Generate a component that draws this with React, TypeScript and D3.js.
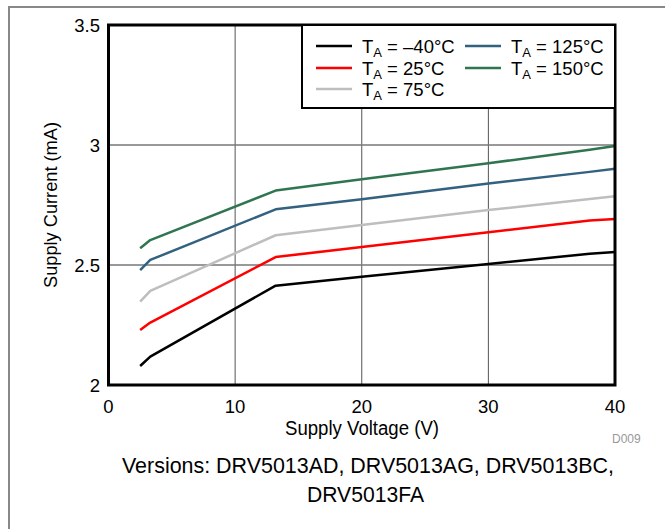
import React from "react";
import * as d3 from "d3";

const voltages = [2.5, 3.3, 13.2, 20, 30, 38, 40];
const seriesNames = ["–40°C", "25°C", "75°C", "125°C", "150°C"];
const seriesColors = ["#000000", "#ff0000", "#bebebe", "#336180", "#2f7550"];
const currM40 = [2.079, 2.118, 2.414, 2.451, 2.504, 2.547, 2.554];
const curr25 = [2.229, 2.26, 2.533, 2.575, 2.636, 2.685, 2.692];
const curr75 = [2.347, 2.392, 2.624, 2.667, 2.729, 2.775, 2.786];
const curr125 = [2.479, 2.521, 2.732, 2.774, 2.84, 2.888, 2.901];
const curr150 = [2.57, 2.604, 2.81, 2.857, 2.924, 2.98, 2.996];
const seriesValues = [currM40, curr25, curr75, curr125, curr150];
const xTicks = [0, 10, 20, 30, 40];
const yTicks = [2, 2.5, 3, 3.5];
const xGrid = [10, 20, 30];
const yGrid = [2.5, 3];

const FONT = "'Liberation Sans', Arial, sans-serif";

export default function App() {
  const W = 665, H = 529;
  const x = d3.scaleLinear().domain([0, 40]).range([108.5, 615]);
  const y = d3.scaleLinear().domain([2, 3.5]).range([385, 25]);
  const line = d3.line<[number, number]>().x(d => x(d[0])).y(d => y(d[1]));
  const legendPos = [
    { lx: 316, ty: 46 },
    { lx: 316, ty: 68 },
    { lx: 316, ty: 89 },
    { lx: 465, ty: 46 },
    { lx: 465, ty: 68 },
  ];
  return (
    <svg width={W} height={H} style={{ position: "absolute", left: 0, top: 0 }}>
      <rect x={0} y={0} width={W} height={H} fill="#fff" />
      <rect x={9} y={7} width={W + 20} height={H + 20} fill="none" stroke="#888" strokeWidth={2} />
      {xGrid.map(v => (
        <line key={"gx" + v} x1={x(v)} x2={x(v)} y1={y(3.5)} y2={y(2)} stroke="#555" strokeWidth={1} />
      ))}
      {yGrid.map(v => (
        <line key={"gy" + v} x1={x(0)} x2={x(40)} y1={y(v)} y2={y(v)} stroke="#777" strokeWidth={1.5} />
      ))}
      {seriesValues.map((vals, i) => (
        <path
          key={"s" + i}
          d={line(voltages.map((v, j) => [v, vals[j]] as [number, number])) || ""}
          fill="none"
          stroke={seriesColors[i]}
          strokeWidth={2.5}
          strokeLinejoin="round"
        />
      ))}
      <rect x={x(0)} y={y(3.5)} width={x(40) - x(0)} height={y(2) - y(3.5)} fill="none" stroke="#000" strokeWidth={3} />
      {/* legend */}
      <rect x={302} y={y(3.5)} width={x(40) - 302} height={108 - y(3.5)} fill="#fff" stroke="#000" strokeWidth={2} />
      {seriesNames.map((n, i) => (
        <g key={"l" + i}>
          <line x1={legendPos[i].lx} x2={legendPos[i].lx + 36} y1={legendPos[i].ty} y2={legendPos[i].ty} stroke={seriesColors[i]} strokeWidth={2.5} />
          <text x={legendPos[i].lx + 46} y={legendPos[i].ty + 7} fontFamily={FONT} fontSize={18.5} fill="#000">
            T<tspan fontSize={13} dy={4}>A</tspan><tspan dy={-4}>{" = " + n}</tspan>
          </text>
        </g>
      ))}
      {xTicks.map(v => (
        <text key={"xt" + v} x={x(v)} y={413} textAnchor="middle" fontFamily={FONT} fontSize={18.5} fill="#000">{v}</text>
      ))}
      {yTicks.map(v => (
        <text key={"yt" + v} x={100} y={y(v) + 6.5} textAnchor="end" fontFamily={FONT} fontSize={18.5} fill="#000">{v}</text>
      ))}
      <text x={285} y={435} textLength={154} lengthAdjust="spacingAndGlyphs" fontFamily={FONT} fontSize={19.5} fill="#000">Supply Voltage (V)</text>
      <text transform={`translate(57,288) rotate(-90)`} textLength={166} lengthAdjust="spacingAndGlyphs" fontFamily={FONT} fontSize={19} fill="#000">Supply Current (mA)</text>
      <text x={612} y={443} fontFamily={FONT} fontSize={12} fill="#999">D009</text>
      <text x={122} y={473} textLength={492} lengthAdjust="spacingAndGlyphs" fontFamily={FONT} fontSize={22.5} fill="#000">Versions: DRV5013AD, DRV5013AG, DRV5013BC,</text>
      <text x={307} y={502} textLength={117} lengthAdjust="spacingAndGlyphs" fontFamily={FONT} fontSize={22.5} fill="#000">DRV5013FA</text>
    </svg>
  );
}
